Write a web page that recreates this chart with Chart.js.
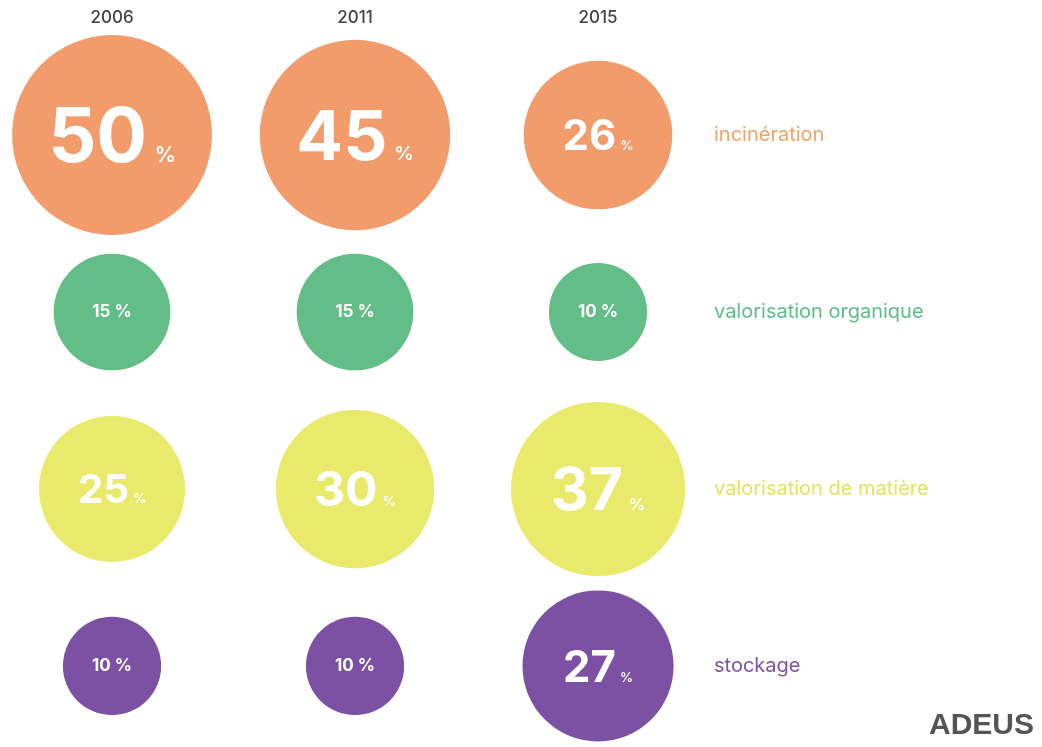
<!DOCTYPE html>
<html>
<head>
<meta charset="utf-8">
<script src="https://cdn.jsdelivr.net/npm/chart.js@4"></script>
<style>
  body { margin: 0; background: #fff; }
  #wrap { width: 1042px; height: 747px; position: relative; }
</style>
</head>
<body>
<div id="wrap"><canvas id="bubbles"></canvas></div>
<script>
// years shown at the top of each column
const years = ['2006', '2011', '2015'];
// one row per treatment type
const categories = ['incinération', 'valorisation organique', 'valorisation de matière', 'stockage'];
// share of waste (%) per year
const incineration = [50, 45, 26];
const valoOrganique = [15, 15, 10];
const valoMatiere = [25, 30, 37];
const stockage = [10, 10, 27];

const rows = [incineration, valoOrganique, valoMatiere, stockage];
const fills = ['#f39c6b', '#62bd86', '#e9e96c', '#7c50a2'];
const textColors = ['#f0a46a', '#5cbf8c', '#e3e35e', '#8353a8'];

// bubble size grows with the square root of the share
const sizeFor = (v) => 8 + 13 * Math.sqrt(v);

const datasets = rows.map((values, row) => ({
  label: categories[row],
  data: values.map((v, i) => ({ x: i, y: row })),
  backgroundColor: fills[row],
  borderWidth: 0,
  clip: false,
  radius: (ctx) => sizeFor(values[ctx.dataIndex])
}));

// Draws the percentages, the years and the row names
const labelsPlugin = {
  id: 'labels',
  afterDatasetsDraw(chart) {
    const ctx = chart.ctx;
    const xs = chart.scales.x;
    const ys = chart.scales.y;
    ctx.save();
    ctx.textBaseline = 'alphabetic';

    // year headers
    ctx.fillStyle = '#444';
    ctx.font = '500 17px Inter, sans-serif';
    ctx.textAlign = 'center';
    years.forEach((y, i) => ctx.fillText(y, xs.getPixelForValue(i), 23));

    // values inside bubbles
    chart.data.datasets.forEach((ds, row) => {
      const meta = chart.getDatasetMeta(row);
      meta.data.forEach((el, i) => {
        const v = rows[row][i];
        const r = sizeFor(v);
        ctx.fillStyle = '#fff';
        if (v <= 15) {
          ctx.font = 'bold 17px Inter, sans-serif';
          ctx.textAlign = 'center';
          ctx.textBaseline = 'middle';
          ctx.fillText(v + ' %', el.x, el.y);
        } else {
          const big = Math.max(30, (r - 42) * 1.3);
          const small = Math.max(13, big * 0.28);
          ctx.font = 'bold ' + big + 'px Inter, sans-serif';
          const numW = ctx.measureText(String(v)).width;
          ctx.font = '600 ' + small + 'px Inter, sans-serif';
          const pctW = ctx.measureText('%').width;
          const gap = big * 0.1;
          const start = el.x - (numW + gap + pctW) / 2;
          const base = el.y + big * 0.36;
          ctx.textAlign = 'left';
          ctx.textBaseline = 'alphabetic';
          ctx.font = 'bold ' + big + 'px Inter, sans-serif';
          ctx.fillText(String(v), start, base);
          ctx.font = '600 ' + small + 'px Inter, sans-serif';
          ctx.fillText('%', start + numW + gap, base);
        }
      });
      // row name on the right
      ctx.fillStyle = textColors[row];
      ctx.font = '20px Inter, sans-serif';
      ctx.textAlign = 'left';
      ctx.textBaseline = 'middle';
      ctx.fillText(categories[row], 714, ys.getPixelForValue(row));
    });

    // source logo
    ctx.fillStyle = '#555';
    ctx.font = 'bold 30px "Liberation Sans", Arial, sans-serif';
    ctx.textAlign = 'right';
    ctx.textBaseline = 'alphabetic';
    ctx.fillText('ADEUS', 1034, 734);
    ctx.restore();
  }
};

new Chart(document.getElementById('bubbles'), {
  type: 'bubble',
  data: { datasets },
  options: {
    responsive: true,
    maintainAspectRatio: false,
    animation: false,
    layout: { padding: 0, autoPadding: false },
    plugins: { legend: { display: false }, tooltip: { enabled: false } },
    events: [],
    scales: {
      x: { type: 'linear', min: -0.461, max: 3.827, display: false },
      y: { type: 'linear', reverse: true, min: -0.763, max: 3.458, display: false }
    }
  },
  plugins: [labelsPlugin]
});
</script>
</body>
</html>
